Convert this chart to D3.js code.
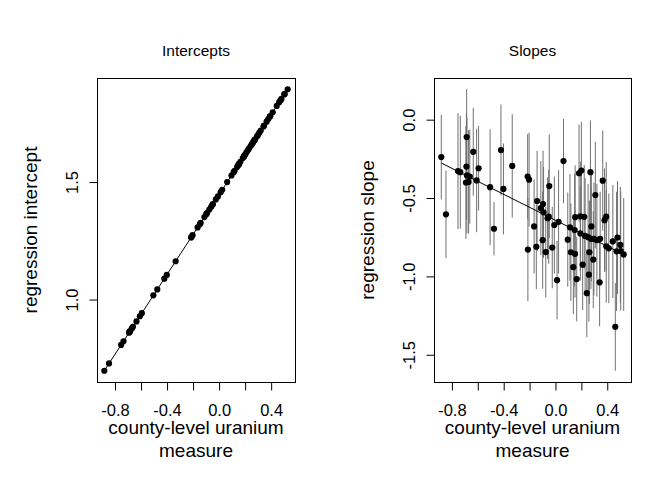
<!DOCTYPE html>
<html>
<head>
<meta charset="utf-8">
<script src="https://cdn.jsdelivr.net/npm/d3@7"></script>
<style>
body { margin: 0; background: #fff; }
text { font-family: "Liberation Sans", Arial, Helvetica, sans-serif; fill: #000; }
</style>
</head>
<body>
<script>
// county-level uranium (x), same for both panels
var uranium = [-0.882,-0.846,-0.753,-0.735,-0.686,-0.688,-0.692,-0.671,-0.684,-0.662,
  -0.635,-0.594,-0.609,-0.505,-0.475,-0.421,-0.402,-0.334,-0.215,-0.204,
  -0.213,-0.165,-0.148,-0.142,-0.113,-0.096,-0.092,-0.099,-0.061,-0.052,
  -0.048,-0.075,-0.025,-0.009,0.024,0.012,0.062,0.095,0.112,0.119,
  0.152,0.151,0.148,0.138,0.164,0.182,0.200,0.192,0.222,0.192,
  0.210,0.229,0.252,0.274,0.297,0.242,0.262,0.258,0.270,0.277,
  0.292,0.308,0.320,0.345,0.341,0.365,0.379,0.392,0.392,0.412,
  0.443,0.462,0.479,0.472,0.501,0.504,0.527];

var intercepts = [0.697,0.728,0.807,0.822,0.864,0.862,0.859,0.877,0.866,0.884,
  0.907,0.942,0.929,1.018,1.043,1.089,1.105,1.163,1.264,1.274,
  1.266,1.307,1.321,1.326,1.351,1.365,1.369,1.363,1.395,1.403,
  1.406,1.383,1.426,1.439,1.467,1.457,1.500,1.528,1.542,1.548,
  1.576,1.575,1.573,1.564,1.586,1.602,1.617,1.610,1.636,1.610,
  1.626,1.642,1.661,1.680,1.699,1.653,1.670,1.666,1.677,1.682,
  1.695,1.709,1.719,1.740,1.737,1.757,1.769,1.780,1.780,1.797,
  1.824,1.840,1.854,1.848,1.873,1.875,1.895];

var slopes = [-0.239,-0.604,-0.328,-0.335,-0.111,-0.299,-0.401,-0.397,-0.356,-0.363,
  -0.205,-0.310,-0.388,-0.431,-0.696,-0.194,-0.442,-0.295,-0.363,-0.383,
  -0.829,-0.681,-0.811,-0.519,-0.565,-0.538,-0.591,-0.769,-0.629,-0.619,
  -0.424,-0.845,-0.816,-0.672,-0.652,-1.024,-0.264,-0.766,-0.687,-0.846,
  -0.622,-0.856,-0.704,-0.941,-1.017,-0.342,-0.325,-0.617,-0.620,-0.726,
  -0.925,-0.742,-0.750,-0.760,-0.761,-1.107,-0.846,-0.989,-0.335,-0.681,
  -0.893,-0.481,-0.769,-0.760,-1.038,-0.389,-0.641,-0.619,-0.808,-0.821,
  -0.777,-1.322,-0.752,-0.840,-0.799,-0.838,-0.860];

var slopeSE = [0.27,0.28,0.37,0.36,0.305,0.34,0.36,0.33,0.37,0.30,
  0.28,0.27,0.33,0.37,0.17,0.29,0.29,0.33,0.27,0.30,
  0.33,0.30,0.27,0.32,0.30,0.34,0.29,0.31,0.26,0.30,
  0.33,0.29,0.26,0.31,0.33,0.25,0.27,0.30,0.34,0.31,
  0.33,0.28,0.36,0.30,0.27,0.31,0.31,0.35,0.33,0.30,
  0.29,0.37,0.34,0.32,0.36,0.28,0.33,0.30,0.33,0.35,
  0.31,0.34,0.36,0.30,0.28,0.32,0.33,0.35,0.36,0.35,
  0.36,0.28,0.36,0.38,0.37,0.38,0.36];

// fitted group-level lines: [intercept, slope]
var interceptFit = [1.447, 0.850];
var slopeFit = [-0.642, -0.414];

var xTicks = [-0.8, -0.6, -0.4, -0.2, 0, 0.2, 0.4];
var xTickLabels = ["-0.8", "", "-0.4", "", "0.0", "", "0.4"];
var interceptTicks = [1.0, 1.5];
var interceptTickLabels = ["1.0", "1.5"];
var slopeTicks = [0, -0.5, -1.0, -1.5];
var slopeTickLabels = ["0.0", "-0.5", "-1.0", "-1.5"];

var svg = d3.select("body").append("svg")
  .attr("width", 672)
  .attr("height", 480);

svg.append("rect").attr("width", 672).attr("height", 480).attr("fill", "#fff");

// R style axis range: data extent plus 4% each side
function rRange(lo, hi) {
  var pad = (hi - lo) * 0.04;
  return [lo - pad, hi + pad];
}

function drawPanel(opt) {
  var x = d3.scaleLinear().domain(rRange(d3.min(uranium), d3.max(uranium)))
    .range([opt.left, opt.right]);
  var y = d3.scaleLinear().domain(opt.yDomain).range([opt.bottom, opt.top]);
  var g = svg.append("g");

  // error bars
  if (opt.se) {
    g.selectAll("line.bar")
      .data(opt.values)
      .enter()
      .append("line")
      .attr("class", "bar")
      .attr("x1", function(d, i) { return x(uranium[i]); })
      .attr("x2", function(d, i) { return x(uranium[i]); })
      .attr("y1", function(d, i) { return y(d - opt.se[i]); })
      .attr("y2", function(d, i) { return y(d + opt.se[i]); })
      .attr("stroke", "#707070")
      .attr("stroke-width", 1);
  }

  // fitted line over the data range
  var x0 = d3.min(uranium), x1 = d3.max(uranium);
  g.append("line")
    .attr("x1", x(x0)).attr("y1", y(opt.fit[0] + opt.fit[1] * x0))
    .attr("x2", x(x1)).attr("y2", y(opt.fit[0] + opt.fit[1] * x1))
    .attr("stroke", "#000")
    .attr("stroke-width", 1);

  g.selectAll("circle")
    .data(opt.values)
    .enter()
    .append("circle")
    .attr("cx", function(d, i) { return x(uranium[i]); })
    .attr("cy", function(d) { return y(d); })
    .attr("r", 3.1)
    .attr("fill", "#000");

  // box
  g.append("rect")
    .attr("x", opt.left + 0.5).attr("y", opt.top + 0.5)
    .attr("width", opt.right - opt.left).attr("height", opt.bottom - opt.top)
    .attr("fill", "none").attr("stroke", "#000").attr("stroke-width", 1);

  var xAxis = g.append("g")
    .attr("transform", "translate(0," + (opt.bottom + 0.5) + ")")
    .call(d3.axisBottom(x).tickValues(xTicks).tickSize(8)
      .tickFormat(function(d, i) { return xTickLabels[i]; }));
  xAxis.select(".domain").remove();
  xAxis.selectAll("line").attr("stroke", "#000");
  // only keep the labels R actually prints
  xAxis.selectAll("text").filter(function() { return this.textContent === ""; }).remove();
  xAxis.selectAll("text")
    .attr("y", 33).attr("dy", null)
    .style("font-size", "16.5px")
    .style("font-family", '"Liberation Sans", Arial, sans-serif');

  var yAxis = g.append("g")
    .attr("transform", "translate(" + (opt.left + 0.5) + ",0)")
    .call(d3.axisLeft(y).tickValues(opt.yTicks).tickSize(8)
      .tickFormat(function(d, i) { return opt.yTickLabels[i]; }));
  yAxis.select(".domain").remove();
  yAxis.selectAll("line").attr("stroke", "#000");
  yAxis.selectAll("text")
    .attr("x", null).attr("dy", null)
    .attr("text-anchor", "middle")
    .attr("transform", "translate(-20,0) rotate(-90)")
    .style("font-size", "16.5px")
    .style("font-family", '"Liberation Sans", Arial, sans-serif');

  var cx = (opt.left + opt.right) / 2;
  var cy = (opt.top + opt.bottom) / 2;

  svg.append("text")
    .attr("x", cx).attr("y", 56)
    .attr("text-anchor", "middle")
    .style("font-size", "15.5px")
    .text(opt.title);

  var xl = svg.append("text")
    .attr("text-anchor", "middle")
    .style("font-size", "19px");
  xl.append("tspan").attr("x", cx).attr("y", 434).text("county-level uranium");
  xl.append("tspan").attr("x", cx).attr("y", 457).text("measure");

  svg.append("text")
    .attr("transform", "translate(" + (opt.left - 60) + "," + cy + ") rotate(-90)")
    .attr("text-anchor", "middle")
    .style("font-size", "19px")
    .text(opt.yLabel);
}

var slopeLow = d3.min(slopes, function(d, i) { return d - slopeSE[i]; });
var slopeHigh = d3.max(slopes, function(d, i) { return d + slopeSE[i]; });

drawPanel({
  left: 97, right: 295, top: 78, bottom: 382,
  values: intercepts,
  yDomain: rRange(d3.min(intercepts), d3.max(intercepts)),
  fit: interceptFit,
  yTicks: interceptTicks, yTickLabels: interceptTickLabels,
  title: "Intercepts", yLabel: "regression intercept"
});

drawPanel({
  left: 434, right: 631, top: 78, bottom: 382,
  values: slopes, se: slopeSE,
  yDomain: rRange(slopeLow, slopeHigh),
  fit: slopeFit,
  yTicks: slopeTicks, yTickLabels: slopeTickLabels,
  title: "Slopes", yLabel: "regression slope"
});
</script>
</body>
</html>
